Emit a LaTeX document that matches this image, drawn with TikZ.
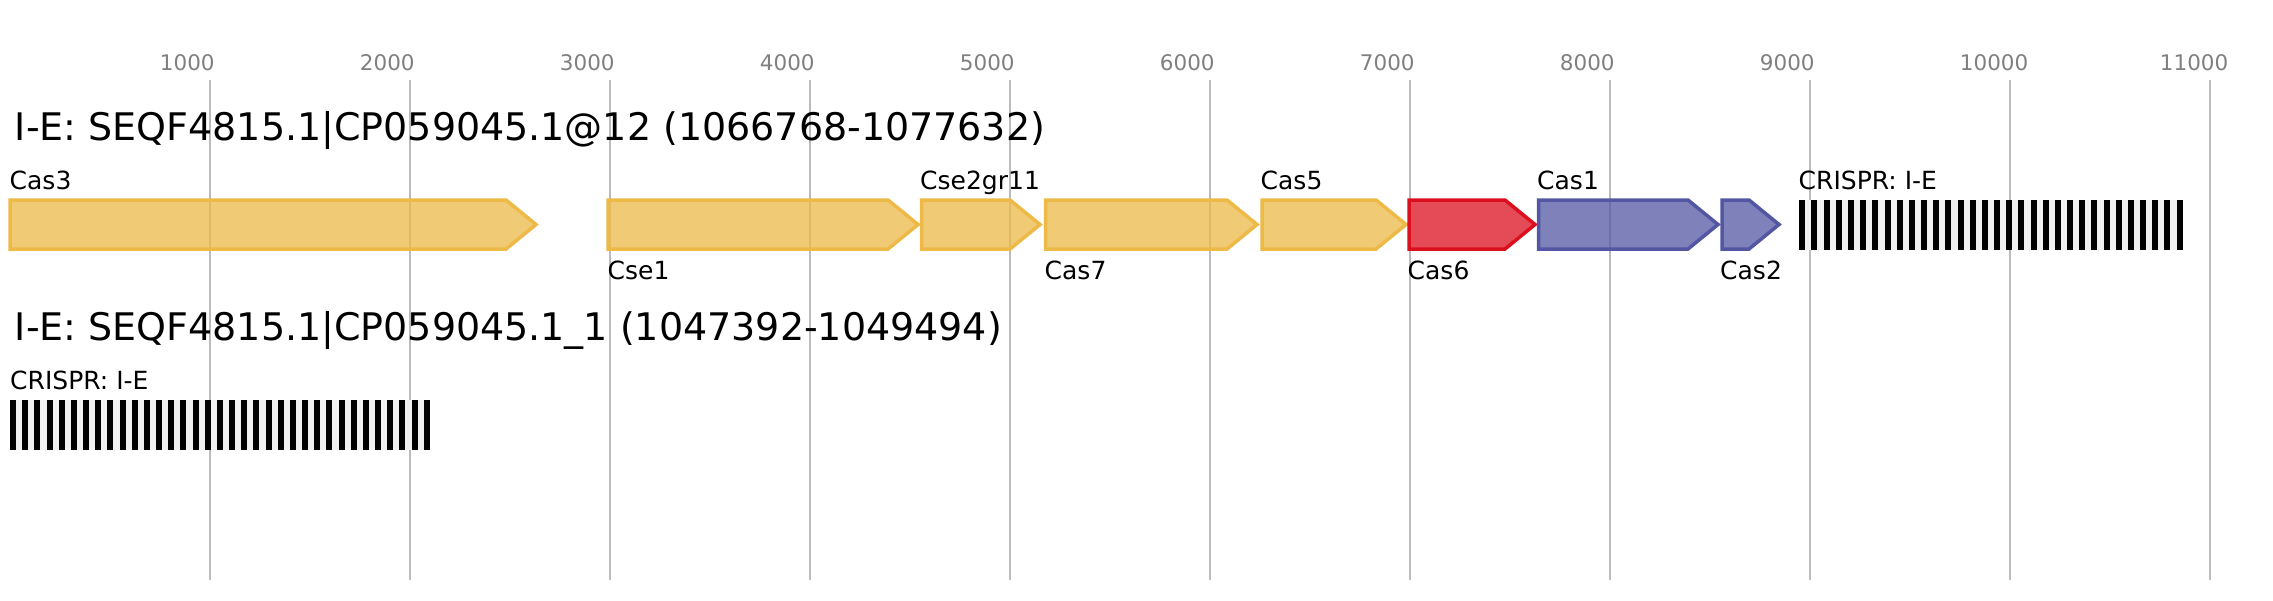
\documentclass[tikz,border=0pt]{standalone}
\usepackage{fontspec}
\setmainfont{DejaVu Sans}
\definecolor{gridc}{HTML}{BBBBBB}
\definecolor{tickc}{HTML}{808080}
\definecolor{yelc}{HTML}{EDB947}
\definecolor{redc}{HTML}{DC0F1E}
\definecolor{bluec}{HTML}{5357A3}
\definecolor{spc}{HTML}{F0F0F0}
\tikzset{
  gridline/.style={draw=gridc, line width=2pt},
  ticklbl/.style={anchor=base west, inner sep=0pt, text=tickc, font=\fontsize{21.5}{21.5}\selectfont},
  titlelbl/.style={anchor=base west, inner sep=0pt, font=\fontsize{38}{38}\selectfont},
  genelbl/.style={anchor=base west, inner sep=0pt, font=\fontsize{25}{25}\selectfont},
  genebox/.style={line width=3.5pt, line join=miter, fill opacity=0.75, draw=#1, fill=#1},
  repeatbar/.style={fill=black},
  spacerbg/.style={fill=spc},
}
% gene arrow: x-start, x-tip, colour
\newcommand{\genearrow}[3]{%
  \draw[genebox=#3] (#1,200) -- ({#2-30},200) -- (#2,224.5) -- ({#2-30},249) -- (#1,249) -- cycle;}
% crispr array: x-start, y-top, number of repeats
\newcommand{\crisprarray}[3]{%
  \fill[spacerbg] (#1,#2) rectangle ({#1+(#3-1)*12.17+6},{#2+50});
  \foreach \i in {1,...,#3}{\fill[repeatbar] ({#1+(\i-1)*12.17},#2) rectangle ++(6,50);}}
\begin{document}
\begin{tikzpicture}[x=1pt,y=-1pt]
\useasboundingbox (0,0) rectangle (2273,600);
\fill[white] (0,0) rectangle (2273,600);
% grid and ticks
\foreach \k [evaluate=\k as \v using int(\k*1000)] in {1,...,11}{
  \draw[gridline] ({9.7+200*\k},80) -- ({9.7+200*\k},580);
  \node[ticklbl] (tick\k) at ({9.7+200*\k-50},70) {\v};
}
% row 1
\node[titlelbl] (title1) at (14.6,140.5) {I-E: SEQF4815.1|CP059045.1@12 (1066768-1077632)};
\genearrow{10}{536}{yelc}
\genearrow{608}{918}{yelc}
\genearrow{921.5}{1040}{yelc}
\genearrow{1045.5}{1257}{yelc}
\genearrow{1262}{1406}{yelc}
\genearrow{1409}{1535}{redc}
\genearrow{1538.5}{1718}{bluec}
\genearrow{1722}{1779}{bluec}
\crisprarray{1799.3}{200}{32}
\node[genelbl] (lcas3) at (9.5,189) {Cas3};
\node[genelbl] (lcse1) at (607.5,279) {Cse1};
\node[genelbl] (lcse2) at (920,189) {Cse2gr11};
\node[genelbl] (lcas7) at (1044.5,279) {Cas7};
\node[genelbl] (lcas5) at (1260.5,189) {Cas5};
\node[genelbl] (lcas6) at (1407.5,279) {Cas6};
\node[genelbl] (lcas1) at (1537,189) {Cas1};
\node[genelbl] (lcas2) at (1720,279) {Cas2};
\node[genelbl] (lcr1) at (1798.5,189) {CRISPR: I-E};
% row 2
\node[titlelbl] (title2) at (14.6,340) {I-E: SEQF4815.1|CP059045.1\_1 (1047392-1049494)};
\crisprarray{10}{400}{35}
\node[genelbl] (lcr2) at (10,389) {CRISPR: I-E};
\end{tikzpicture}
\end{document}
